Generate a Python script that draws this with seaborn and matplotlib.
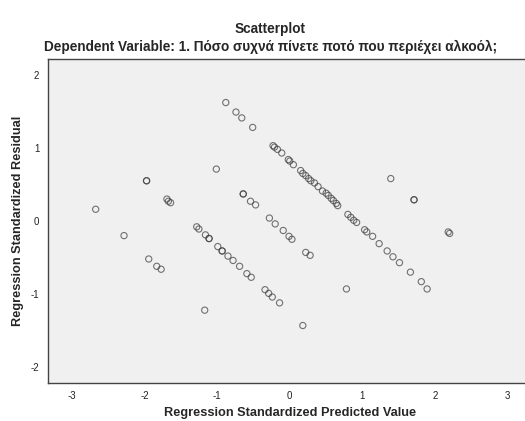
import numpy as np
import pandas as pd
import seaborn as sns
from matplotlib import pyplot as plt

# standardized predicted values (x) and residuals (y)
predicted = [
    -0.88, -0.74, -0.66, -0.51,
    -1.01, -1.97, -1.97, -2.67, -2.28, -1.17, 0.18, 0.78, 1.39, 1.71, 1.71, 2.18, 2.20,
    -1.69, -1.67, -1.64,
    -1.94, -1.83, -1.77,
    -0.64, -0.64, -0.54, -0.47,
    -0.23, -0.21, -0.17, -0.11, -0.02, 0.00, 0.05, 0.15, 0.18, 0.22, 0.26, 0.29,
    0.34, 0.39, 0.45, 0.50, 0.53, 0.57, 0.60, 0.64, 0.66,
    0.80, 0.84, 0.88, 0.92, 1.03, 1.06, 1.14, 1.23, 1.34, 1.42, 1.51, 1.66, 1.81, 1.89,
    -0.28, -0.20, -0.09, -0.01, 0.03, 0.22, 0.28,
    -1.28, -1.25, -1.16, -1.11, -1.11, -0.99, -0.93, -0.93, -0.85, -0.78, -0.69, -0.59, -0.53,
    -0.34, -0.29, -0.24, -0.14,
]
residual = [
    1.62, 1.49, 1.41, 1.28,
    0.71, 0.55, 0.55, 0.16, -0.20, -1.22, -1.43, -0.93, 0.58, 0.29, 0.29, -0.15, -0.17,
    0.30, 0.27, 0.25,
    -0.52, -0.62, -0.66,
    0.37, 0.37, 0.27, 0.22,
    1.03, 1.01, 0.98, 0.93, 0.84, 0.82, 0.77, 0.69, 0.65, 0.62, 0.58, 0.55,
    0.52, 0.47, 0.41, 0.38, 0.35, 0.31, 0.28, 0.24, 0.21,
    0.09, 0.05, 0.01, -0.02, -0.12, -0.15, -0.21, -0.31, -0.41, -0.49, -0.57, -0.70, -0.83, -0.93,
    0.04, -0.04, -0.13, -0.21, -0.25, -0.43, -0.47,
    -0.08, -0.11, -0.19, -0.24, -0.24, -0.35, -0.41, -0.41, -0.48, -0.54, -0.62, -0.72, -0.77,
    -0.94, -0.99, -1.04, -1.12,
]

df = pd.DataFrame({"predicted": predicted, "residual": residual})

sns.set_style("white")
plt.rcParams["font.family"] = ["Liberation Sans", "DejaVu Sans"]
plt.rcParams["axes.unicode_minus"] = False

fig = plt.figure(figsize=(5.25, 4.21), dpi=100)
ax = fig.add_axes([0.0909, 0.0903, 0.922, 0.7696])
ax.set_facecolor("#f0f0f0")

sns.scatterplot(data=df, x="predicted", y="residual", ax=ax,
                marker="o", s=20, facecolors="none", edgecolor="#3a3a3a",
                linewidth=0.8, alpha=0.7)

ax.set_xlim(-3.33, 3.33)
ax.set_ylim(-2.216, 2.216)
ax.set_xticks(np.arange(-3, 4))
ax.set_yticks(np.arange(-2, 3))

for side in ["left", "bottom", "top", "right"]:
    ax.spines[side].set_color("#444444")
    ax.spines[side].set_linewidth(1.0)

ax.tick_params(axis="both", direction="out", length=4, width=0.8,
               color="#444444", labelsize=7, labelcolor="#222222", pad=2)

ax.set_xlabel("Regression Standardized Predicted Value", fontsize=9.2,
              fontweight="bold", labelpad=4)
ax.set_ylabel("Regression Standardized Residual", fontsize=9.2,
              fontweight="bold", labelpad=5)

fig.text(0.515, 0.931, "Scatterplot", ha="center", va="center",
         fontsize=9.8, fontweight="bold")
fig.text(0.515, 0.888, "Dependent Variable: 1. Πόσο συχνά πίνετε ποτό που περιέχει αλκοόλ;",
         ha="center", va="center", fontsize=9.8, fontweight="bold")

fig.savefig("out.png", dpi=100)
